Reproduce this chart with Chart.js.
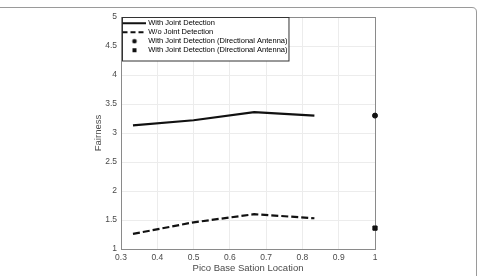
<!DOCTYPE html>
<html>
<head>
<meta charset="utf-8">
<script src="https://cdn.jsdelivr.net/npm/chart.js@4"></script>
<style>
    html, body { margin: 0; padding: 0; background: #fff; }
    #wrap { width: 481px; height: 276px; }
</style>
</head>
<body>
<div id="wrap"><canvas id="grafico"></canvas></div>
<script>
// valores
const locations = [0.333, 0.5, 0.667, 0.833];
const withJD = [3.13, 3.22, 3.36, 3.30];
const withoutJD = [1.26, 1.46, 1.60, 1.53];
const dirLocation = [1];
const dirCircle = [3.30];
const dirSquare = [1.36];
const seriesNames = [
    'With Joint Detection',
    'W/o Joint Detection',
    'With Joint Detection (Directional Antenna)',
    'With Joint Detection (Directional Antenna)'
];

const FONT = 'Liberation Sans, Arial, Helvetica, sans-serif';
const TEXT = '#4a4a4a';
const AXIS = '#8a8a8a';

function toPoints(xs, ys) {
    return xs.map((x, i) => ({ x: x, y: ys[i] }));
}

// pequenos simbolos para a legenda
function legendSymbol(kind) {
    const c = document.createElement('canvas');
    c.width = 24;
    c.height = 6;
    const g = c.getContext('2d');
    g.fillStyle = '#111';
    g.strokeStyle = '#111';
    if (kind === 'solid' || kind === 'dash') {
        g.lineWidth = 2;
        if (kind === 'dash') g.setLineDash([5, 3]);
        g.beginPath();
        g.moveTo(1, 3);
        g.lineTo(24, 3);
        g.stroke();
    } else if (kind === 'circle') {
        g.beginPath();
        g.arc(13, 3, 2.3, 0, Math.PI * 2);
        g.fill();
    } else {
        g.fillRect(11, 1, 4, 4);
    }
    return c;
}

const symbols = [legendSymbol('solid'), legendSymbol('dash'), legendSymbol('circle'), legendSymbol('square')];

const framePlugin = {
    id: 'frame',
    afterLayout(chart) {
        // legenda dentro da area do grafico, no topo
        const a = chart.chartArea;
        chart.legend.top = a.top + 1;
        chart.legend.bottom = a.bottom;
    },
    beforeDraw(chart) {
        const ctx = chart.ctx;
        ctx.save();
        ctx.fillStyle = '#fff';
        ctx.fillRect(0, 0, chart.width, chart.height);
        ctx.strokeStyle = '#9a9a9a';
        ctx.lineWidth = 1;
        ctx.beginPath();
        ctx.moveTo(0, 7.5);
        ctx.lineTo(472, 7.5);
        ctx.quadraticCurveTo(476.5, 7.5, 476.5, 12);
        ctx.lineTo(476.5, chart.height);
        ctx.stroke();
        ctx.restore();
    },
    beforeDatasetsDraw(chart) {
        const a = chart.chartArea;
        const ctx = chart.ctx;
        ctx.save();
        ctx.strokeStyle = AXIS;
        ctx.lineWidth = 1;
        ctx.strokeRect(a.left + 0.5, a.top + 0.5, a.right - a.left, a.bottom - a.top);
        // caixa da legenda
        const boxes = chart.legend.legendHitBoxes;
        if (boxes && boxes.length) {
            const last = boxes[boxes.length - 1];
            const right = Math.max(...boxes.map(b => b.left + b.width)) + 1;
            const left = a.left + 1;
            const top = a.top + 0.5;
            const bottom = last.top + last.height + 7;
            ctx.fillStyle = '#fff';
            ctx.fillRect(left, top, right - left, bottom - top);
            ctx.strokeStyle = '#333';
            ctx.strokeRect(left + 0.5, top, right - left, bottom - top);
        }
        ctx.restore();
        chart.legend.draw();
    }
};

const ctx = document.getElementById('grafico').getContext('2d');
new Chart(ctx, {
    type: 'line',
    data: {
        datasets: [{
            label: seriesNames[0],
            data: toPoints(locations, withJD),
            borderColor: '#111',
            borderWidth: 2.2,
            pointRadius: 0,
            tension: 0
        }, {
            label: seriesNames[1],
            data: toPoints(locations, withoutJD),
            borderColor: '#111',
            borderWidth: 2.2,
            borderDash: [7, 3],
            pointRadius: 0,
            tension: 0
        }, {
            label: seriesNames[2],
            data: toPoints(dirLocation, dirCircle),
            showLine: false,
            pointStyle: 'circle',
            pointRadius: 2.5,
            backgroundColor: '#111',
            borderColor: '#111',
            borderWidth: 1,
            clip: false
        }, {
            label: seriesNames[3],
            data: toPoints(dirLocation, dirSquare),
            showLine: false,
            pointStyle: 'rect',
            pointRadius: 3,
            backgroundColor: '#111',
            borderColor: '#111',
            borderWidth: 1,
            clip: false
        }]
    },
    options: {
        responsive: true,
        maintainAspectRatio: false,
        animation: false,
        layout: {
            padding: { top: 17, right: 106, left: 0, bottom: 0 }
        },
        plugins: {
            tooltip: { enabled: false },
            legend: {
                display: true,
                position: 'chartArea',
                align: 'start',
                labels: {
                    usePointStyle: true,
                    pointStyleWidth: 22,
                    padding: 1.5,
                    color: '#222',
                    font: { family: FONT, size: 7.5 },
                    generateLabels: (chart) => chart.data.datasets.map((ds, i) => ({
                        text: ds.label,
                        pointStyle: symbols[i],
                        fillStyle: '#111',
                        strokeStyle: '#111',
                        lineWidth: 0,
                        hidden: false,
                        datasetIndex: i
                    }))
                }
            }
        },
        scales: {
            x: {
                type: 'linear',
                min: 0.3,
                max: 1,
                afterFit: (s) => { s.height = 27; },
                ticks: {
                    stepSize: 0.1,
                    padding: 4,
                    color: TEXT,
                    font: { family: FONT, size: 8.5 },
                    maxRotation: 0,
                    callback: (v) => String(Number(v.toFixed(1)))
                },
                grid: { color: '#ececec', drawTicks: false },
                border: { color: AXIS },
                title: {
                    display: true,
                    text: 'Pico Base Sation Location',
                    color: TEXT,
                    font: { family: FONT, size: 9.5 },
                    padding: { top: 0, bottom: 1.5 }
                }
            },
            y: {
                min: 1,
                max: 5,
                afterFit: (s) => { s.width = 121; },
                ticks: {
                    stepSize: 0.5,
                    padding: 4,
                    color: TEXT,
                    font: { family: FONT, size: 8.5 },
                    callback: (v) => String(Number(v.toFixed(1)))
                },
                grid: { color: '#ececec', drawTicks: false },
                border: { color: AXIS },
                title: {
                    display: true,
                    text: 'Fairness',
                    color: TEXT,
                    font: { family: FONT, size: 9.5 },
                    padding: { top: 93, bottom: 0 }
                }
            }
        }
    },
    plugins: [framePlugin]
});
</script>
</body>
</html>
